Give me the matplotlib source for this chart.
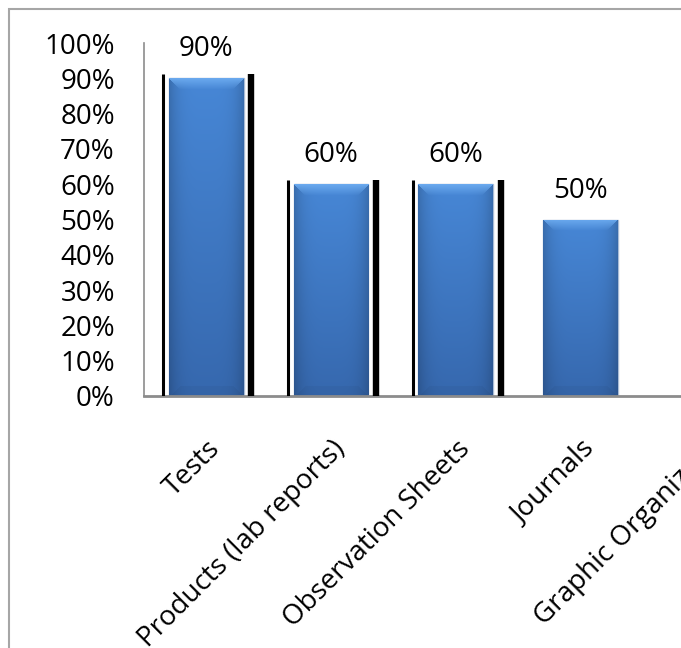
import numpy as np
import matplotlib
matplotlib.use("Agg")
import matplotlib.pyplot as plt
from matplotlib.patches import Rectangle
from matplotlib.ticker import PercentFormatter

plt.rcParams['font.family'] = ['Open Sans', 'DejaVu Sans']

# data
categories = ['Tests', 'Products (lab reports)', 'Observation Sheets', 'Journals',
              'Graphic Organizers']
values = [0.90, 0.60, 0.60, 0.50]          # last category is cut off in the source
has_marks = [True, True, True, False]      # black strokes beside the bars
yticks = np.arange(0, 1.01, 0.1)

W, H, DPI = 681, 648, 100
FS = 20
fig = plt.figure(figsize=(W / DPI, H / DPI), dpi=DPI)
# axes runs past the right edge, like the cropped original
ax = fig.add_axes([144 / W, (H - 396) / H, 623.5 / W, 353 / H])
ax.set_xlim(-0.5, len(categories) - 0.5)
ax.set_ylim(0, 1)

x = np.arange(len(values))
bw = 0.6
bars = ax.bar(x, values, width=bw, color='#3f7bc8', edgecolor='#a9bcd6', linewidth=1, zorder=2)


def hex2rgb(h):
    return np.array([int(h[i:i + 2], 16) / 255 for i in (1, 3, 5)])


top_c, bot_c = hex2rgb('#4787d6'), hex2rgb('#3668ae')
hi_c = hex2rgb('#6aa9ee')

# bevelled gradient fill, clipped to each bar
for b, v in zip(bars, values):
    p0 = ax.transData.transform((0, 0))
    p1 = ax.transData.transform((bw, v))
    wpx, hpx = int(p1[0] - p0[0]), int(p1[1] - p0[1])
    r = np.arange(hpx)[:, None] * np.ones((1, wpx))
    c = np.ones((hpx, 1)) * np.arange(wpx)[None, :]
    t = (r / max(hpx - 1, 1))[..., None]
    img = top_c * (1 - t) + bot_c * t
    edge = np.abs(2 * c / (wpx - 1) - 1) ** 4
    img = img * (1 - 0.18 * edge)[..., None]
    bv = 11
    top = (r < bv) & (c >= r) & (c < wpx - r)
    f = (1 - r / bv)[..., None]
    img = np.where(top[..., None], hi_c * f + img * (1 - f), img)
    bot = (r > hpx - bv) & (c > hpx - r) & (c < wpx - (hpx - r))
    img = np.where(bot[..., None], img * 0.96, img)
    im = ax.imshow(np.clip(img, 0, 1), extent=(b.get_x(), b.get_x() + bw, 0, v),
                   aspect='auto', zorder=2.5, interpolation='bilinear')
    im.set_clip_path(b)

ax.set_xlim(-0.5, len(categories) - 0.5)
ax.set_ylim(0, 1)

# black strokes next to some bars
for xi, v, m in zip(x, values, has_marks):
    if m:
        ax.vlines(xi - 0.345, 0, v + 0.012, color='black', lw=2.2, zorder=3)
        ax.vlines(xi + 0.36, 0, v + 0.012, color='black', lw=4.6, zorder=3)

for xi, v in zip(x, values):
    ax.annotate(f'{v:.0%}', (xi, v), xytext=(0, 29), textcoords='offset pixels',
                ha='center', va='center', fontsize=FS)

ax.set_yticks(yticks)
ax.yaxis.set_major_formatter(PercentFormatter(1.0, decimals=0))
ax.set_xticks(range(len(categories)), categories)
for lab in ax.get_xticklabels():
    lab.set_rotation(45)
    lab.set_ha('right')
    lab.set_va('top')
    lab.set_rotation_mode('anchor')
ax.tick_params(axis='y', length=0, pad=21, labelsize=FS)
ax.tick_params(axis='x', length=0, pad=28, labelsize=FS)

for s in ('top', 'right'):
    ax.spines[s].set_visible(False)
ax.spines['left'].set_color('#8c8c8c')
ax.spines['left'].set_linewidth(1.2)
ax.spines['bottom'].set_color('#8c8c8c')
ax.spines['bottom'].set_linewidth(2)

# outer chart border (only top and left visible in the crop)
fig.add_artist(Rectangle((8.5 / W, -0.5), 2, 1.5 - 8.5 / H, transform=fig.transFigure,
                         fill=False, edgecolor='#a6a6a6', lw=1.5, clip_on=False))

fig.savefig('out.png', dpi=DPI)
